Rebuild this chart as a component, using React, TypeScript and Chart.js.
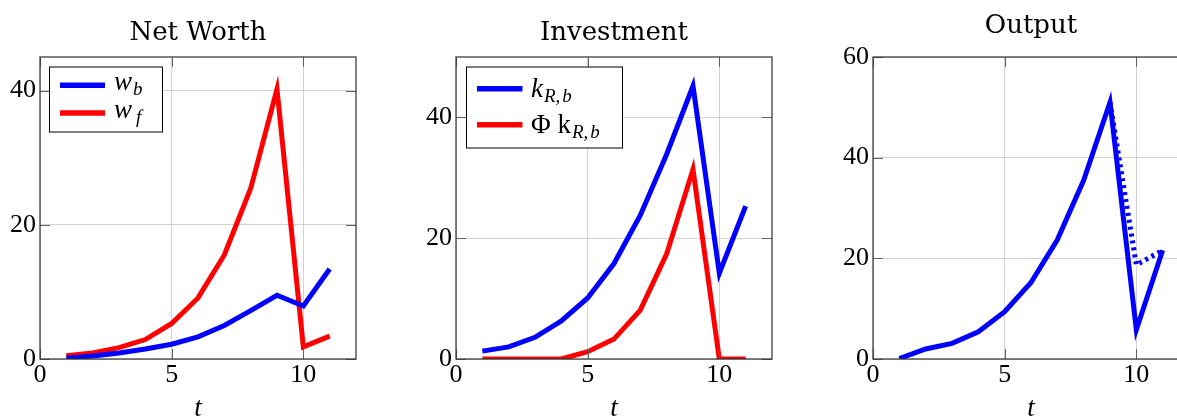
import React, { useEffect, useRef } from "react";
import { Chart, registerables } from "chart.js";

Chart.register(...registerables);

// ---------- data ----------
const tValues = [1, 2, 3, 4, 5, 6, 7, 8, 9, 10, 11];
const netWorthB = [0.1, 0.45, 0.9, 1.5, 2.2, 3.3, 5.0, 7.2, 9.5, 7.9, 13.4];
const netWorthF = [0.5, 0.9, 1.7, 2.9, 5.3, 9.1, 15.5, 25.4, 40.2, 1.8, 3.4];
const investK = [1.3, 2.0, 3.6, 6.3, 10.1, 15.8, 23.8, 33.9, 45.2, 14.2, 25.3];
const investPhiK = [0, 0, 0, 0, 1.2, 3.3, 8.1, 17.4, 31.4, 0, 0];
const outputY = [0.1, 2.0, 3.1, 5.4, 9.4, 15.2, 23.7, 35.5, 51.0, 5.8, 21.6];
const outputAlt = [null, null, null, null, null, null, null, null, 51.0, 18.7, 21.6];

const xTicks = [0, 5, 10];
const yTicksNet = [0, 20, 40];
const yTicksInv = [0, 20, 40];
const yTicksOut = [0, 20, 40, 60];
const titles = ["Net Worth", "Investment", "Output"];

const BLUE = "#0000ff";
const RED = "#ff0000";
const SERIF = '"Liberation Serif", "Times New Roman", serif';
const TITLE_FONT = '"DejaVu Serif", serif';

type Run = { text: string; italic?: boolean; sub?: boolean; dx?: number };
type LegendEntry = { color: string; runs: Run[] };
type LegendSpec = {
  box: [number, number, number, number];
  sampleX: [number, number];
  sampleY: number[];
  textX: number;
  baseY: number[];
  entries: LegendEntry[];
} | null;

function pts(vals: (number | null)[]) {
  return tValues.map((t, i) => ({ x: t, y: vals[i] }));
}

function drawRuns(ctx: CanvasRenderingContext2D, runs: Run[], x: number, y: number) {
  let cx = x;
  for (const r of runs) {
    const size = r.sub ? 19 : 27;
    ctx.font = `${r.italic ? "italic " : ""}${size}px ${SERIF}`;
    cx += r.dx || 0;
    ctx.fillText(r.text, cx, r.sub ? y + 5 : y);
    cx += ctx.measureText(r.text).width;
  }
}

function makePlugin(title: string, titleBaseline: number, legend: LegendSpec) {
  return {
    id: "pgfDecor",
    afterDatasetsDraw(chart: any) {
      const ctx = chart.ctx as CanvasRenderingContext2D;
      const a = chart.chartArea;
      const xs = chart.scales.x;
      const ys = chart.scales.y;
      ctx.save();
      // inward tick marks
      ctx.strokeStyle = "#606060";
      ctx.lineWidth = 1;
      ctx.beginPath();
      for (const t of xs.ticks) {
        const px = Math.round(xs.getPixelForValue(t.value)) + 0.5;
        ctx.moveTo(px, a.bottom);
        ctx.lineTo(px, a.bottom - 10);
        ctx.moveTo(px, a.top);
        ctx.lineTo(px, a.top + 10);
      }
      for (const t of ys.ticks) {
        const py = Math.round(ys.getPixelForValue(t.value)) + 0.5;
        ctx.moveTo(a.left, py);
        ctx.lineTo(a.left + 10, py);
        ctx.moveTo(a.right, py);
        ctx.lineTo(a.right - 10, py);
      }
      ctx.stroke();
      // frame
      ctx.strokeStyle = "#303030";
      ctx.lineWidth = 1.2;
      ctx.strokeRect(a.left, a.top, a.right - a.left, a.bottom - a.top);
      // title
      ctx.fillStyle = "#000";
      ctx.font = `26px ${TITLE_FONT}`;
      ctx.textAlign = "center";
      ctx.textBaseline = "alphabetic";
      ctx.fillText(title, (a.left + a.right) / 2, titleBaseline);
      // legend
      if (legend) {
        const [bx, by, bw, bh] = legend.box;
        ctx.fillStyle = "#fff";
        ctx.fillRect(a.left + bx, a.top + by, bw, bh);
        ctx.strokeStyle = "#000";
        ctx.lineWidth = 1;
        ctx.strokeRect(a.left + bx + 0.5, a.top + by + 0.5, bw, bh);
        ctx.textAlign = "left";
        legend.entries.forEach((e, i) => {
          ctx.strokeStyle = e.color;
          ctx.lineWidth = 5.5;
          ctx.lineCap = "butt";
          ctx.beginPath();
          ctx.moveTo(a.left + legend.sampleX[0], a.top + legend.sampleY[i]);
          ctx.lineTo(a.left + legend.sampleX[1], a.top + legend.sampleY[i]);
          ctx.stroke();
          ctx.fillStyle = "#000";
          drawRuns(ctx, e.runs, a.left + legend.textX, a.top + legend.baseY[i]);
        });
      }
      ctx.restore();
    },
  };
}

function lineDs(vals: (number | null)[], color: string, dash?: number[]) {
  return {
    data: pts(vals),
    borderColor: color,
    backgroundColor: color,
    borderWidth: 5,
    borderJoinStyle: "miter",
    borderCapStyle: "butt",
    borderDash: dash || [],
    pointRadius: 0,
    tension: 0,
    fill: false,
    spanGaps: false,
  };
}

function makeConfig(datasets: any[], yMax: number, yTicks: number[], title: string, titleBaseline: number, legend: LegendSpec): any {
  const tickFont = { family: SERIF, size: 26 };
  return {
    type: "line",
    data: { datasets },
    options: {
      animation: false,
      responsive: false,
      events: [],
      layout: { padding: { top: 57, right: 44, bottom: 0, left: 0 } },
      plugins: { legend: { display: false }, tooltip: { enabled: false }, title: { display: false } },
      scales: {
        x: {
          type: "linear",
          min: 0,
          max: 12,
          afterBuildTicks: (s: any) => {
            s.ticks = xTicks.map((v) => ({ value: v }));
          },
          afterFit: (s: any) => {
            s.height = 66;
          },
          grid: { color: "#d2d2d2", lineWidth: 1, drawTicks: false },
          border: { display: false },
          ticks: { font: tickFont, color: "#000", padding: 1, maxRotation: 0, autoSkip: false },
          title: {
            display: true,
            text: "t",
            color: "#000",
            font: { family: SERIF, size: 27, style: "italic" },
            padding: { top: 0, bottom: 0 },
          },
        },
        y: {
          type: "linear",
          min: 0,
          max: yMax,
          afterBuildTicks: (s: any) => {
            s.ticks = yTicks.map((v) => ({ value: v }));
          },
          afterFit: (s: any) => {
            s.width = 40;
          },
          grid: { color: "#d2d2d2", lineWidth: 1, drawTicks: false },
          border: { display: false },
          ticks: { font: tickFont, color: "#000", padding: 4, autoSkip: false },
        },
      },
    },
    plugins: [makePlugin(title, titleBaseline, legend)],
  };
}

const legendNet: LegendSpec = {
  box: [9, 9.5, 113, 65],
  sampleX: [20, 65],
  sampleY: [28.3, 56],
  textX: 74,
  baseY: [33, 61],
  entries: [
    { color: BLUE, runs: [{ text: "w", italic: true }, { text: "b", italic: true, sub: true, dx: 1 }] },
    { color: RED, runs: [{ text: "w", italic: true }, { text: "f", italic: true, sub: true, dx: 4 }] },
  ],
};

const legendInv: LegendSpec = {
  box: [10, 9.5, 156, 81],
  sampleX: [21, 66.5],
  sampleY: [31.7, 67.7],
  textX: 75,
  baseY: [39.5, 75.5],
  entries: [
    {
      color: BLUE,
      runs: [
        { text: "k", italic: true },
        { text: "R", italic: true, sub: true, dx: 1 },
        { text: ",", italic: true, sub: true },
        { text: "b", italic: true, sub: true, dx: 2 },
      ],
    },
    {
      color: RED,
      runs: [
        { text: "Φ" },
        { text: " k" },
        { text: "R", italic: true, sub: true, dx: 1 },
        { text: ",", italic: true, sub: true },
        { text: "b", italic: true, sub: true, dx: 2 },
      ],
    },
  ],
};

export default function App() {
  const c1 = useRef<HTMLCanvasElement>(null);
  const c2 = useRef<HTMLCanvasElement>(null);
  const c3 = useRef<HTMLCanvasElement>(null);

  useEffect(() => {
    const charts: Chart[] = [];
    let cancelled = false;
    const build = () => {
      if (cancelled) return;
      charts.push(
        new Chart(
          c1.current!,
          makeConfig([lineDs(netWorthB, BLUE), lineDs(netWorthF, RED)], 45, yTicksNet, titles[0], 40, legendNet)
        )
      );
      charts.push(
        new Chart(
          c2.current!,
          makeConfig([lineDs(investK, BLUE), lineDs(investPhiK, RED)], 50, yTicksInv, titles[1], 40, legendInv)
        )
      );
      charts.push(
        new Chart(
          c3.current!,
          makeConfig([lineDs(outputY, BLUE), lineDs(outputAlt, BLUE, [3, 4])], 60, yTicksOut, titles[2], 33, null)
        )
      );
    };
    const fonts: any = (document as any).fonts;
    if (fonts && fonts.load) {
      Promise.all([
        fonts.load('26px "Liberation Serif"'),
        fonts.load('italic 26px "Liberation Serif"'),
        fonts.load('26px "DejaVu Serif"'),
      ])
        .catch(() => null)
        .then(build);
    } else {
      build();
    }
    return () => {
      cancelled = true;
      charts.forEach((c) => c.destroy());
    };
  }, []);

  const cs: React.CSSProperties = { position: "absolute", top: 0, display: "block" };
  return (
    <div
      style={{
        position: "absolute",
        left: 0,
        top: 0,
        width: 1177,
        height: 419,
        overflow: "hidden",
        background: "#fff",
      }}
    >
      <canvas ref={c1} width={400} height={425} style={{ ...cs, left: 0 }} />
      <canvas ref={c2} width={400} height={425} style={{ ...cs, left: 416 }} />
      <canvas ref={c3} width={400} height={425} style={{ ...cs, left: 833 }} />
    </div>
  );
}
